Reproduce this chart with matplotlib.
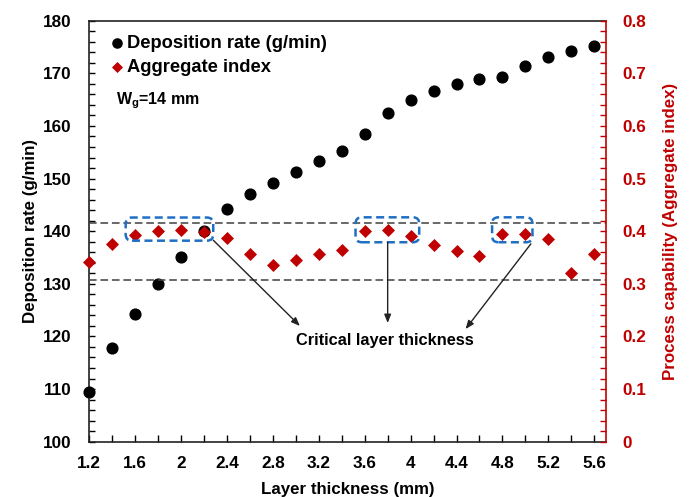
import matplotlib
matplotlib.use('Agg')
import matplotlib.pyplot as plt
from matplotlib.patches import FancyBboxPatch
from matplotlib.ticker import MultipleLocator, FixedLocator

plt.rcParams['font.family'] = ['Liberation Sans', 'DejaVu Sans']
plt.rcParams['font.weight'] = 'bold'
plt.rcParams['mathtext.fontset'] = 'custom'
plt.rcParams['mathtext.rm'] = 'Liberation Sans:bold'
plt.rcParams['mathtext.bf'] = 'Liberation Sans:bold'
plt.rcParams['mathtext.it'] = 'Liberation Sans:bold'

# ---- data ----
layer_thickness = [1.2, 1.4, 1.6, 1.8, 2.0, 2.2, 2.4, 2.6, 2.8, 3.0, 3.2, 3.4,
                   3.6, 3.8, 4.0, 4.2, 4.4, 4.6, 4.8, 5.0, 5.2, 5.4, 5.6]
deposition_rate = [109.5, 117.8, 124.3, 130.0, 135.1, 140.0, 144.3, 147.1, 149.2,
                   151.2, 153.3, 155.3, 158.5, 162.4, 164.9, 166.7, 168.0, 169.0,
                   169.4, 171.4, 173.1, 174.2, 175.2]
aggregate_index = [0.342, 0.376, 0.392, 0.401, 0.402, 0.398, 0.388, 0.357, 0.336,
                   0.346, 0.356, 0.365, 0.401, 0.403, 0.390, 0.374, 0.363, 0.353,
                   0.395, 0.395, 0.385, 0.320, 0.356]
threshold_levels = [0.415, 0.307]
x_ticks = [1.2, 1.6, 2.0, 2.4, 2.8, 3.2, 3.6, 4.0, 4.4, 4.8, 5.2, 5.6]
x_tick_labels = ['1.2', '1.6', '2', '2.4', '2.8', '3.2', '3.6', '4', '4.4', '4.8', '5.2', '5.6']
left_ticks = [100, 110, 120, 130, 140, 150, 160, 170, 180]
right_ticks = [0, 0.1, 0.2, 0.3, 0.4, 0.5, 0.6, 0.7, 0.8]
right_tick_labels = ['0', '0.1', '0.2', '0.3', '0.4', '0.5', '0.6', '0.7', '0.8']

RED = '#C00000'
BLUE = '#1F6FC5'

fig = plt.figure(figsize=(6.89, 4.97), dpi=100)
ax = fig.add_axes([0.1296, 0.1113, 0.7495, 0.8470])
ax2 = ax.twinx()

ax.scatter(layer_thickness, deposition_rate, s=60, color='black', marker='o',
           zorder=3, clip_on=False, label='Deposition rate (g/min)')
ax2.scatter(layer_thickness, aggregate_index, s=44, color=RED, marker='D',
            linewidths=0, zorder=3, clip_on=False, label='Aggregate index')

for lvl in threshold_levels:
    ax2.axhline(lvl, color='#404040', lw=1.1, ls=(0, (5, 2.5)), zorder=2)

ax.set_xlim(1.2, 5.7)
ax.set_ylim(100, 180)
ax2.set_ylim(0, 0.8)

ax.xaxis.set_major_locator(FixedLocator(x_ticks))
ax.set_xticklabels(x_tick_labels)
ax.xaxis.set_minor_locator(MultipleLocator(0.2))
ax.yaxis.set_major_locator(FixedLocator(left_ticks))
ax.yaxis.set_minor_locator(MultipleLocator(2))
ax2.yaxis.set_major_locator(FixedLocator(right_ticks))
ax2.set_yticklabels(right_tick_labels)
ax2.yaxis.set_minor_locator(MultipleLocator(0.02))

ax.tick_params(axis='x', which='both', direction='in', length=5, width=1,
               labelsize=12.3, pad=10.5, top=False)
ax.tick_params(axis='y', which='both', direction='in', length=4, width=1,
               labelsize=12.3, pad=13, right=False)
ax2.tick_params(axis='y', which='both', direction='in', length=4, width=1,
                labelsize=12.3, pad=12, colors=RED)
for lab in ax.get_xticklabels() + ax.get_yticklabels() + ax2.get_yticklabels():
    lab.set_fontweight('bold')

for sp in ['left', 'bottom', 'top']:
    ax.spines[sp].set_color('#222222')
    ax.spines[sp].set_linewidth(1.2)
ax.spines['right'].set_visible(False)
ax2.spines['right'].set_color(RED)
ax2.spines['right'].set_linewidth(1.2)
for sp in ['left', 'bottom', 'top']:
    ax2.spines[sp].set_visible(False)

ax.set_xlabel('Layer thickness (mm)', fontsize=12.2, fontweight='bold', labelpad=8)
ax.set_ylabel('Deposition rate (g/min)', fontsize=12.2, fontweight='bold', labelpad=3)
ax2.set_ylabel('Process capability (Aggregate index)', fontsize=12.2,
               fontweight='bold', color=RED, labelpad=12)

# legend
h1, l1 = ax.get_legend_handles_labels()
h2, l2 = ax2.get_legend_handles_labels()
leg = ax2.legend(h1 + h2, l1 + l2, loc='upper left', bbox_to_anchor=(0.045, 0.966),
                 bbox_transform=ax.transAxes, frameon=False, fontsize=13.2,
                 handlelength=0.5, handletextpad=0.3, borderaxespad=0, borderpad=0,
                 labelspacing=0.38, markerscale=0.85)
for t in leg.get_texts():
    t.set_fontweight('bold')

ax.text(0.0517, 0.802, r'W$_\mathregular{g}$=14 mm', transform=ax.transAxes,
        fontsize=11.5, fontweight='bold', va='baseline', ha='left')

# dashed rounded boxes (in right-axis data coords)
boxes = [(1.517, 0.382, 2.28 - 1.517, 0.426 - 0.382),
         (3.52, 0.379, 4.075 - 3.52, 0.4264 - 0.379),
         (4.71, 0.379, 5.062 - 4.71, 0.4264 - 0.379)]
for (bx, by, bw, bh) in boxes:
    p = FancyBboxPatch((bx, by), bw, bh, boxstyle='round,pad=0,rounding_size=0.055',
                       mutation_aspect=0.218,
                       fill=False, edgecolor=BLUE, lw=1.8, ls=(0, (3.2, 1.8)), zorder=4,
                       transform=ax2.transData)
    ax2.add_patch(p)

# arrows & text
arrow_specs = [((2.28, 0.383), (3.035, 0.22)),
               ((3.80, 0.379), (3.80, 0.2255)),
               ((5.048, 0.376), (4.479, 0.214))]
for tail, head in arrow_specs:
    ax2.annotate('', xy=head, xytext=tail,
                 arrowprops=dict(arrowstyle='-|>,head_length=0.5,head_width=0.2',
                                 color='#222222', lw=1.0, shrinkA=0, shrinkB=0),
                 zorder=4)
ax2.text(3.78, 0.193, 'Critical layer thickness', ha='center', va='center',
         fontsize=11.8, fontweight='bold')

fig.savefig('out.png', dpi=100)
